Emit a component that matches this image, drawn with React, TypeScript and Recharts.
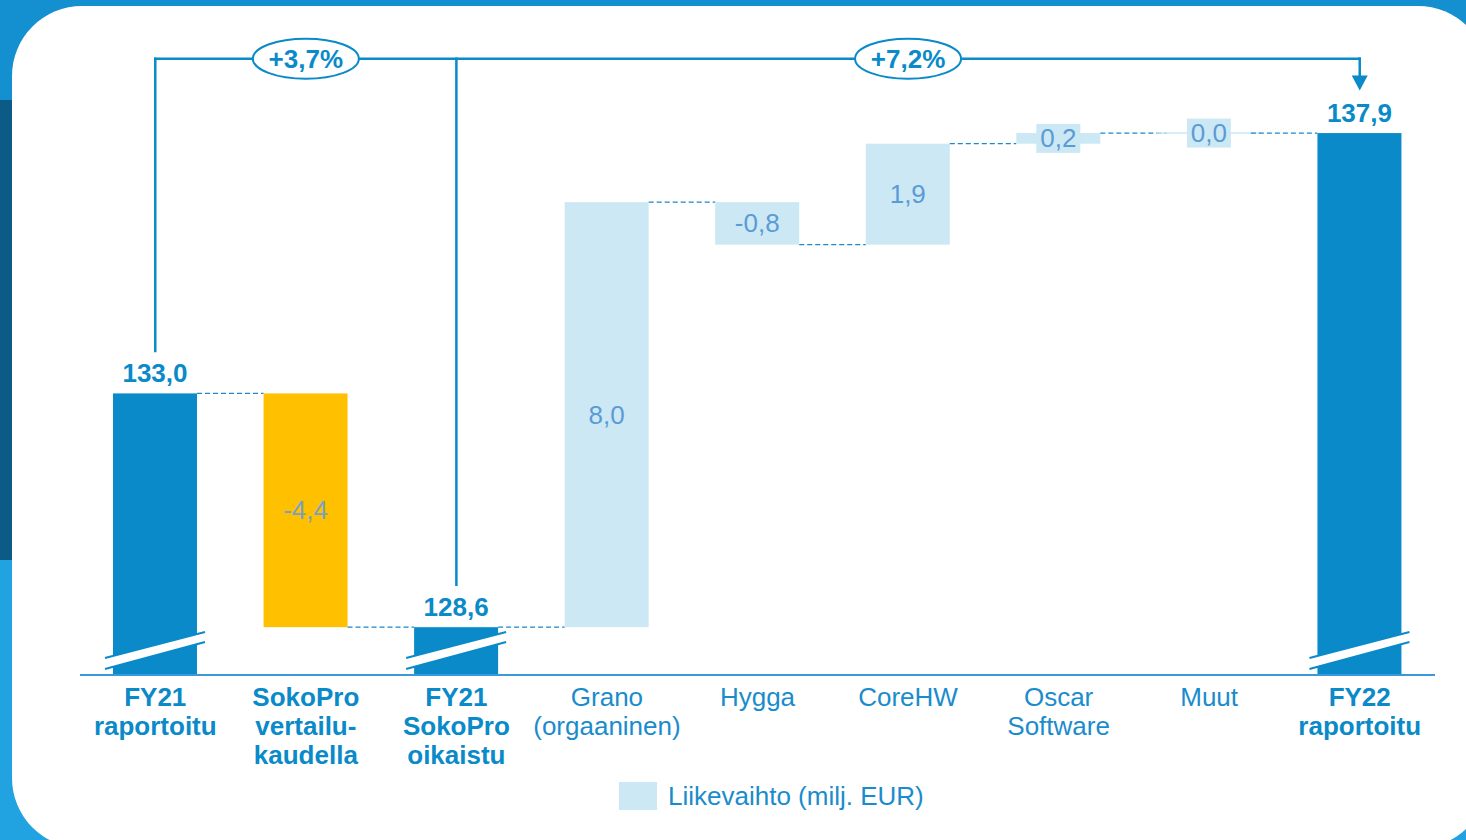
import React from 'react';
import { BarChart, Bar, XAxis, YAxis, ReferenceLine, ReferenceDot } from 'recharts';

// ---- data ----
const categories = [
  'FY21\nraportoitu',
  'SokoPro\nvertailu-\nkaudella',
  'FY21\nSokoPro\noikaistu',
  'Grano\n(orgaaninen)',
  'Hygga',
  'CoreHW',
  'Oscar\nSoftware',
  'Muut',
  'FY22\nraportoitu',
];
const kinds = ['total', 'adjustment', 'total', 'delta', 'delta', 'delta', 'delta', 'delta', 'total'];
const values = [133.0, -4.4, 128.6, 8.0, -0.8, 1.9, 0.2, 0.0, 137.9];
const growthLabels = ['+3,7%', '+7,2%'];
const legendLabel = 'Liikevaihto (milj. EUR)';

// ---- layout / style constants ----
const W = 1466;
const H = 840;
const PLOT_LEFT = 80;
const PLOT_RIGHT = 1435;
const PLOT_TOP = 21.5;
const PLOT_BOTTOM = 675;
const XAXIS_H = 80;
const BAR_W = 84;
const BAND = (PLOT_RIGHT - PLOT_LEFT) / categories.length;
const Y_MIN = 127.7;
const Y_MAX = 140;
const BRACKET_Y = 139.3;
const GAP = 0.8;
const ARROW_H = 0.28;

const DARK = '#0a8ac8';
const YELLOW = '#ffc000';
const LIGHT = '#cce8f4';
const DELTA_TEXT = '#5b9bd5';
const FONT = '"Liberation Sans", Arial, Helvetica, sans-serif';

const fmt = (v: number) => v.toFixed(1).replace('.', ',');

// build waterfall rows
let running = 0;
const rows = categories.map((name, i) => {
  const kind = kinds[i];
  const v = values[i];
  let low: number;
  let high: number;
  let end: number;
  if (kind === 'total') {
    low = Y_MIN;
    high = v;
    end = v;
  } else {
    const start = running;
    end = start + v;
    low = Math.min(start, end);
    high = Math.max(start, end);
  }
  running = end;
  return { name, kind, value: v, range: [low, high], end, rising: kind === 'total' || v >= 0 };
});

const WaterfallShape = (props: any) => {
  const { x, width, payload, index } = props;
  let { y, height } = props;
  if (height < 0) {
    y = y + height;
    height = -height;
  }
  const kind = payload.kind;
  const fill = kind === 'total' ? DARK : kind === 'adjustment' ? YELLOW : LIGHT;
  const bottom = y + height;
  const endY = payload.rising ? y : bottom;
  const cx = x + width / 2;
  const parts: React.ReactNode[] = [];

  if (height >= 1) {
    parts.push(<rect key="r" x={x} y={y} width={width} height={height} fill={fill} />);
  } else {
    parts.push(
      <line key="r" x1={x - 10} x2={x + width + 10} y1={y} y2={y} stroke={LIGHT} strokeWidth={1.5} />
    );
  }

  if (kind === 'total') {
    // axis break marks
    const l = x - 8;
    const r = x + width + 8;
    parts.push(
      <polygon
        key="brk"
        points={`${l},${bottom - 17} ${r},${bottom - 43} ${r},${bottom - 33} ${l},${bottom - 6}`}
        fill="#ffffff"
      />
    );
    parts.push(
      <line key="b1" x1={l} y1={bottom - 17} x2={r} y2={bottom - 43} stroke={DARK} strokeWidth={2} />
    );
    parts.push(
      <line key="b2" x1={l} y1={bottom - 6} x2={r} y2={bottom - 33} stroke={DARK} strokeWidth={2} />
    );
    parts.push(
      <text
        key="t"
        x={cx}
        y={y - 11}
        textAnchor="middle"
        fontFamily={FONT}
        fontSize={26}
        fontWeight="bold"
        fill={DARK}
      >
        {fmt(payload.value)}
      </text>
    );
  } else {
    const cy = y + height / 2;
    if (height < 30) {
      parts.push(<rect key="bg" x={cx - 22} y={cy - 14.5} width={44} height={29} fill={LIGHT} />);
    }
    parts.push(
      <text
        key="t"
        x={cx}
        y={cy}
        dy={9}
        textAnchor="middle"
        fontFamily={FONT}
        fontSize={26}
        fill={kind === 'adjustment' ? '#7aa0c4' : DELTA_TEXT}
      >
        {fmt(payload.value)}
      </text>
    );
  }

  if (index < categories.length - 1) {
    parts.push(
      <line
        key="c"
        x1={x + width}
        x2={x + width + (BAND - BAR_W)}
        y1={endY}
        y2={endY}
        stroke="#1f86c8"
        strokeWidth={1.2}
        strokeDasharray="5 3"
      />
    );
  }
  return <g>{parts}</g>;
};

const Tick = (props: any) => {
  const { x, y, payload } = props;
  const lines = String(payload.value).split('\n');
  const idx = categories.indexOf(payload.value);
  const bold = kinds[idx] !== 'delta';
  return (
    <text
      x={x}
      y={y}
      textAnchor="middle"
      fontFamily={FONT}
      fontSize={26}
      fontWeight={bold ? 'bold' : 'normal'}
      fill={bold ? DARK : '#1a8ccc'}
    >
      {lines.map((l, i) => (
        <tspan key={i} x={x} dy={i === 0 ? 31 : 29}>
          {l}
        </tspan>
      ))}
    </text>
  );
};

const Bubble = (props: any) => {
  const { cx, cy, text } = props;
  return (
    <g>
      <ellipse cx={cx} cy={cy} rx={53} ry={20} fill="#ffffff" stroke={DARK} strokeWidth={2} />
      <text
        x={cx}
        y={cy}
        dy={9}
        textAnchor="middle"
        fontFamily={FONT}
        fontSize={26}
        fontWeight="bold"
        fill={DARK}
      >
        {text}
      </text>
    </g>
  );
};

const ArrowHead = (props: any) => {
  const { cx, cy } = props;
  return <polygon points={`${cx - 8},${cy - 15} ${cx + 8},${cy - 15} ${cx},${cy}`} fill={DARK} />;
};

const lineProps = { stroke: DARK, strokeWidth: 2.5, strokeLinecap: 'square' as const };

export default function App() {
  const first = categories[0];
  const mid = categories[2];
  const last = categories[categories.length - 1];
  return (
    <div
      style={{
        position: 'absolute',
        left: 0,
        top: 0,
        width: W,
        height: H,
        overflow: 'hidden',
        background:
          'linear-gradient(180deg, #148fcf 0px, #148fcf 100px, #0c5a86 100px, #0c5a86 560px, #21a3e2 560px, #21a3e2 100%)',
      }}
    >
      <div
        style={{
          position: 'absolute',
          left: 12,
          top: 6,
          width: 1476,
          height: 842,
          background: '#ffffff',
          borderRadius: 70,
        }}
      />
      <div style={{ position: 'absolute', left: 0, top: 0 }}>
        <BarChart
          width={W}
          height={H}
          data={rows}
          margin={{ top: PLOT_TOP, right: W - PLOT_RIGHT, left: PLOT_LEFT, bottom: H - PLOT_BOTTOM - XAXIS_H }}
        >
          <XAxis
            dataKey="name"
            height={XAXIS_H}
            interval={0}
            tickLine={false}
            tickSize={0}
            tickMargin={0}
            axisLine={{ stroke: '#3a9ad9', strokeWidth: 2 }}
            tick={<Tick />}
          />
          <YAxis hide domain={[Y_MIN, Y_MAX]} type="number" allowDataOverflow />
          <Bar dataKey="range" barSize={BAR_W} shape={WaterfallShape} isAnimationActive={false} />
          <ReferenceLine segment={[{ x: first, y: BRACKET_Y }, { x: last, y: BRACKET_Y }]} {...lineProps} />
          <ReferenceLine
            segment={[{ x: first, y: BRACKET_Y }, { x: first, y: values[0] + GAP }]}
            {...lineProps}
          />
          <ReferenceLine
            segment={[{ x: mid, y: BRACKET_Y }, { x: mid, y: values[2] + GAP }]}
            {...lineProps}
          />
          <ReferenceLine
            segment={[{ x: last, y: BRACKET_Y }, { x: last, y: values[8] + GAP + ARROW_H }]}
            {...lineProps}
          />
          <ReferenceDot x={last} y={values[8] + GAP} r={8} shape={(p: any) => <ArrowHead {...p} />} />
          <ReferenceDot
            x={categories[1]}
            y={BRACKET_Y}
            r={20}
            shape={(p: any) => <Bubble {...p} text={growthLabels[0]} />}
          />
          <ReferenceDot
            x={categories[5]}
            y={BRACKET_Y}
            r={20}
            shape={(p: any) => <Bubble {...p} text={growthLabels[1]} />}
          />
        </BarChart>
      </div>
      <div
        style={{
          position: 'absolute',
          left: 619,
          top: 782,
          display: 'flex',
          alignItems: 'center',
          fontFamily: FONT,
          fontSize: 26,
          color: '#1a8ccc',
        }}
      >
        <div style={{ width: 38, height: 28, background: LIGHT, marginRight: 11 }} />
        <span style={{ lineHeight: '28px' }}>{legendLabel}</span>
      </div>
    </div>
  );
}
